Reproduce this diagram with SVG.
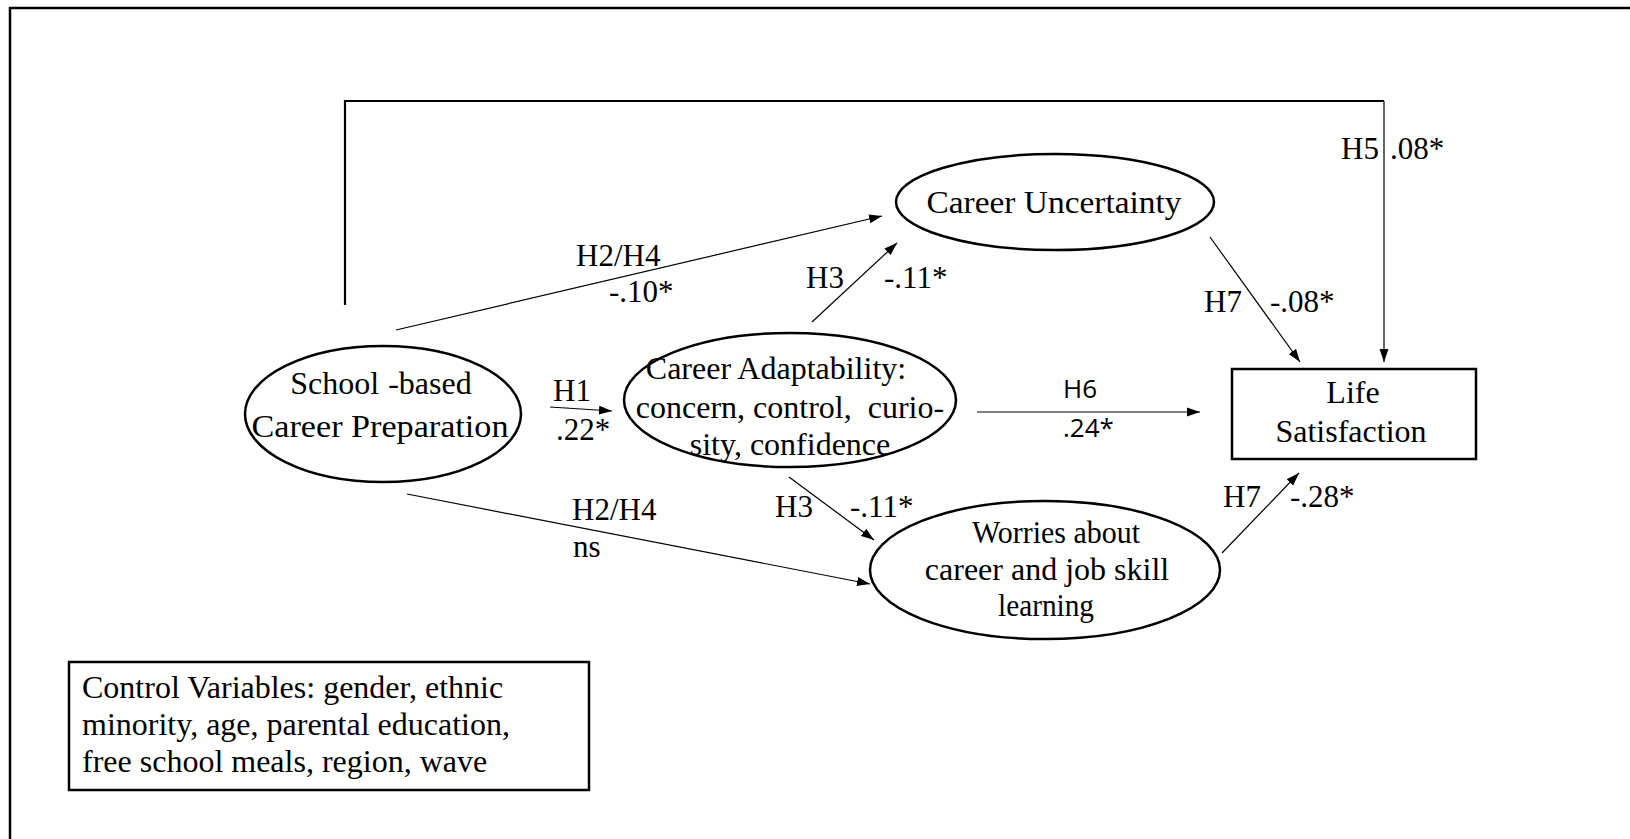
<svg xmlns="http://www.w3.org/2000/svg" width="1630" height="839" viewBox="0 0 1630 839">
<style>
.t{font-family:"Liberation Serif","Times New Roman",serif;font-size:31px;fill:#000}
.b{font-size:32px}
.s{font-family:"Open Sans","Liberation Sans",sans-serif;font-size:26px;fill:#000}
.n{fill:#fff;stroke:#000;stroke-width:2.5}
.c{fill:none;stroke:#000;stroke-width:1.2}
.m{text-anchor:middle}
</style>
<defs>
<marker id="ah" markerUnits="userSpaceOnUse" markerWidth="14" markerHeight="10" refX="13" refY="5" orient="auto">
<path d="M0,0.5 L13,5 L0,9.5 z" fill="#000"/>
</marker>
</defs>
<rect width="1630" height="839" fill="#fff"/>
<path d="M1630,8 H10 V839" fill="none" stroke="#000" stroke-width="2.5"/>
<g id="connectors">
<path d="M345,305 V101 H1384" fill="none" stroke="#000" stroke-width="2.2"/>
<path class="c" d="M1384,101 V362" marker-end="url(#ah)"/>
<path class="c" d="M396,330 L882,216" marker-end="url(#ah)"/>
<path class="c" d="M812,322 L897,243" marker-end="url(#ah)"/>
<path class="c" d="M1210,237 L1300,362" marker-end="url(#ah)"/>
<path class="c" d="M550,407 L612,411" marker-end="url(#ah)"/>
<path class="c" d="M977,412 L1200,412" marker-end="url(#ah)"/>
<path class="c" d="M789,477 L874,540" marker-end="url(#ah)"/>
<path class="c" d="M407,494 L870,584" marker-end="url(#ah)"/>
<path class="c" d="M1222,553 L1299,473" marker-end="url(#ah)"/>
<text class="t" x="576" y="266">H2/H4</text>
<text class="t" x="609" y="302">-.10*</text>
<text class="t" x="806" y="288">H3</text>
<text class="t" x="884" y="288">-.11*</text>
<text class="t" x="1341" y="159">H5</text>
<text class="t" x="1390" y="159">.08*</text>
<text class="t" x="1204" y="312">H7</text>
<text class="t" x="1270" y="312">-.08*</text>
<text class="t" x="553" y="401">H1</text>
<text class="t" x="556" y="440">.22*</text>
<text class="s" x="1063" y="398">H6</text>
<text class="s" x="1063" y="437">.24*</text>
<text class="t" x="775" y="517">H3</text>
<text class="t" x="850" y="517">-.11*</text>
<text class="t" x="572" y="520">H2/H4</text>
<text class="t" x="573" y="557">ns</text>
<text class="t" x="1223" y="507">H7</text>
<text class="t" x="1290" y="507">-.28*</text>
</g>
<g id="career-uncertainty">
<ellipse class="n" cx="1055" cy="202" rx="159" ry="48"/>
<text class="t b m" x="1054" y="213" textLength="255" lengthAdjust="spacingAndGlyphs">Career Uncertainty</text>
</g>
<g id="school-based">
<ellipse class="n" cx="383" cy="414" rx="138" ry="68"/>
<text class="t b m" x="381" y="394">School<tspan dx="9">-based</tspan></text>
<text class="t b m" x="380" y="437" textLength="257" lengthAdjust="spacingAndGlyphs">Career Preparation</text>
</g>
<g id="career-adaptability">
<ellipse class="n" cx="790" cy="400" rx="166" ry="67"/>
<text class="t b m" x="776" y="379">Career Adaptability:</text>
<text class="t b m" x="790" y="418">concern, control, <tspan dx="8">curio-</tspan></text>
<text class="t b m" x="790" y="455">sity, confidence</text>
</g>
<g id="worries">
<ellipse class="n" cx="1045" cy="570" rx="175" ry="69"/>
<text class="t b m" x="1056" y="543" textLength="168" lengthAdjust="spacingAndGlyphs">Worries about</text>
<text class="t b m" x="1047" y="580">career and job skill</text>
<text class="t b m" x="1046" y="616" textLength="96" lengthAdjust="spacingAndGlyphs">learning</text>
</g>
<g id="life-satisfaction">
<rect class="n" x="1232" y="369" width="244" height="90"/>
<text class="t b m" x="1353" y="403">Life</text>
<text class="t b m" x="1351" y="442">Satisfaction</text>
</g>
<g id="control-variables">
<rect class="n" x="69" y="662" width="520" height="128"/>
<text class="t b" x="82" y="698">Control Variables: gender, ethnic</text>
<text class="t b" x="82" y="735">minority, age, parental education,</text>
<text class="t b" x="82" y="772">free school meals, region, wave</text>
</g>
</svg>
